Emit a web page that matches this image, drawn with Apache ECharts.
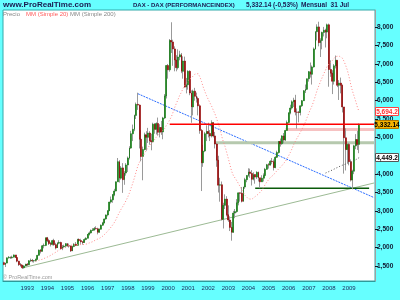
<!DOCTYPE html>
<html><head><meta charset="utf-8">
<script src="https://cdn.jsdelivr.net/npm/echarts@6/dist/echarts.min.js"></script>
<style>html,body{margin:0;padding:0;background:#66ffff;}#c{width:400px;height:300px;}</style>
</head><body><div id="c"></div>
<script>
// ---- data (monthly, Nov 1991 .. Jul 2009) ----
const firstMonth = [1991, 11];
const lastMonth = [2010, 4];
const yearLabels = ['1993','1994','1995','1996','1997','1998','1999','2000','2001','2002','2003','2004','2005','2006','2007','2008','2009'];
const yTicks = [1500, 2000, 2500, 3000, 3500, 4000, 4500, 5000, 5500, 6000, 6500, 7000, 7500, 8000];

const opens = [
1590,1540,
1578,1720,1735,1720,1740,1800,1730,1630,1535,1520,1450,1500,
1545,1530,1640,1650,1640,1645,1680,1790,1930,1900,2050,2060,
2267,2190,2110,2090,2190,2080,1990,2120,2140,1970,2020,2040,
2107,2050,2040,1910,2030,2090,2060,2220,2190,2160,2140,2220,
2254,2360,2400,2470,2480,2520,2510,2420,2500,2610,2670,2780,
2889,3000,3240,3300,3440,3540,3790,4340,3890,4170,3850,4030,
4250,4440,4710,5100,5220,5600,5900,5880,4950,4480,4670,5070,
5002,5120,4910,4880,5360,5220,5380,5140,5270,5150,5530,6130,
6958,6840,7640,7600,7410,7110,6900,7190,7250,6800,7080,6370,
6434,6800,6210,5830,6260,6120,6060,5860,5190,4310,4630,5100,
5160,5110,5040,5400,5040,4820,4380,3700,3710,2770,3150,3320,
2893,2750,2550,2420,2940,2980,3220,3490,3480,3260,3650,3850,
3965,4060,4020,3860,3990,3920,4050,3900,3790,3890,3960,4130,
4256,4250,4350,4340,4180,4460,4590,4890,4830,5040,4930,5190,
5408,5670,5800,5970,6010,5690,5685,5680,5860,6000,6270,6310,
6597,6790,6720,6920,7410,7880,8010,7580,7640,7860,7920,7870,
8067,6850,6750,6530,6950,7100,6420,6480,6420,5830,4990,4670,
4810,4340,3840,4080,4770,4940,4810];

const highs = [
1620,1590,
1730,1770,1760,1780,1811,1800,1740,1640,1580,1530,1520,1560,
1580,1660,1700,1690,1660,1700,1800,1950,1960,2070,2110,2270,
2290,2240,2150,2210,2240,2130,2150,2200,2160,2070,2080,2120,
2120,2110,2060,2050,2120,2150,2240,2250,2240,2170,2250,2280,
2370,2440,2490,2530,2560,2580,2540,2520,2630,2700,2790,2900,
3020,3250,3390,3460,3600,3800,4440,4380,4220,4300,4080,4300,
4480,4760,5180,5350,5620,5950,6217,5900,5200,4750,5130,5170,
5260,5170,5100,5400,5390,5410,5540,5360,5450,5560,6180,6970,
7000,7680,8136,7660,7480,7240,7400,7360,7300,7210,7200,6620,
6830,6830,6280,6300,6350,6220,6110,5900,5230,4800,5150,5330,
5400,5200,5467,5420,5150,4850,4500,3900,3800,3220,3450,3400,
3150,2850,2700,3000,3050,3320,3500,3500,3650,3660,3900,3970,
4160,4150,4110,4050,3990,4080,4070,3900,3970,4020,4170,4280,
4300,4380,4440,4400,4490,4640,4900,4970,5060,5120,5200,5460,
5680,5890,6010,6080,6160,5790,5720,5870,6020,6290,6440,6600,
6810,7040,6960,7450,7890,8080,8151,7700,7880,8010,7960,8100,
8100,7100,6830,7000,7230,7100,6560,6630,6440,5830,5250,4830,
4850,4400,4120,4800,5090,5180,5380];

const lows = [
1520,1470,
1570,1700,1690,1700,1730,1720,1600,1500,1480,1420,1430,1490,
1500,1520,1610,1600,1590,1620,1670,1780,1840,1890,1980,2040,
2150,2070,2030,2060,2050,1950,1990,2090,1950,1930,1990,2000,
2020,2000,1880,1900,2010,2040,2060,2150,2100,2080,2130,2200,
2250,2330,2380,2450,2460,2490,2360,2400,2490,2590,2660,2760,
2850,3000,3200,3220,3400,3530,3790,3770,3850,3490,3710,3960,
4060,4400,4690,4900,5170,5500,5750,4700,4350,3833,4650,4640,
4850,4800,4650,4870,5100,5080,5050,5000,5070,4950,5500,6060,
6600,6790,7300,6950,6800,6800,6850,7100,6750,6600,6360,6200,
6300,6150,5400,5600,6000,5950,5600,5100,3540,4200,4600,4900,
5000,4900,5000,5000,4700,4200,3500,3250,2740,2520,3050,2850,
2700,2450,2188,2400,2800,2950,3150,3250,3230,3250,3600,3780,
3930,3900,3690,3830,3740,3870,3800,3618,3790,3800,3950,4120,
4150,4230,4270,4100,4160,4440,4560,4750,4800,4840,4900,5180,
5380,5630,5760,5830,5600,5240,5410,5600,5830,5990,6210,6290,
6520,6630,6440,6900,7390,7640,7480,7190,7400,7750,7450,7700,
6380,6650,6180,6440,6880,6370,6020,6200,5680,4014,4100,4300,
4240,3800,3588,4000,4680,4660,4570];

const closes = [
1540,1578,
1720,1735,1720,1740,1800,1730,1630,1535,1520,1450,1500,1545,
1530,1640,1650,1640,1645,1680,1790,1930,1900,2050,2060,2267,
2190,2110,2090,2190,2080,1990,2120,2140,1970,2020,2040,2107,
2050,2040,1910,2030,2090,2060,2220,2190,2160,2140,2220,2254,
2360,2400,2470,2480,2520,2510,2420,2500,2610,2670,2780,2889,
3000,3240,3300,3440,3540,3790,4340,3890,4170,3850,4030,4250,
4440,4710,5100,5220,5600,5900,5880,4950,4480,4670,5070,5002,
5120,4910,4880,5360,5220,5380,5140,5270,5150,5530,6130,6958,
6840,7640,7600,7410,7110,6900,7190,7250,6800,7080,6370,6434,
6800,6210,5830,6260,6120,6060,5860,5190,4310,4630,5100,5160,
5110,5040,5400,5040,4820,4380,3700,3710,2770,3150,3320,2893,
2750,2550,2420,2940,2980,3220,3490,3480,3260,3650,3850,3965,
4060,4020,3860,3990,3920,4050,3900,3790,3890,3960,4130,4256,
4250,4350,4340,4180,4460,4590,4890,4830,5040,4930,5190,5408,
5670,5800,5970,6010,5690,5685,5680,5860,6000,6270,6310,6597,
6790,6720,6920,7410,7880,8010,7580,7640,7860,7920,7870,8067,
6850,6750,6530,6950,7100,6420,6480,6420,5830,4990,4670,4810,
4340,3840,4080,4770,4940,4810,5332];

// MM (Simple 200): Nov 2007 .. Jul 2009
const ma200Start = '2007-11';
const ma200 = [4030,4050,4070,4090,4112,4135,4158,4180,4202,4224,4242,4258,4275,4292,4308,4325,4346,4368,4392,4418,4449];

// drawn lines [month, value]
const blueTrend = [['1998-07', 6190], ['2010-04', 3360]];
const supportTrend = [['1992-10', 1445], ['2010-04', 3760]];
const redLevel = [['2000-02', 5358], ['2010-04', 5358]];
const pinkLevel = [['2005-11', 5215], ['2010-04', 5215]];
const sageLevel = [['2002-05', 4857], ['2010-04', 4857]];
const greenLevel = [['2004-05', 3615], ['2010-01', 3615]];

const boxTexts = { ma20: '5,694.2', price: '5,332.14', ma200: '4,449.2' };

// ---- build ----
const months = [];
for (let y = firstMonth[0], m = firstMonth[1]; y < lastMonth[0] || (y === lastMonth[0] && m <= lastMonth[1]); ) {
  months.push(y + '-' + String(m).padStart(2, '0'));
  m++; if (m > 12) { m = 1; y++; }
}
const wickData = opens.map((o, i) => [o, closes[i], lows[i], highs[i]]);
const bodyData = opens.map((o, i) => [o, closes[i], Math.min(o, closes[i]), Math.max(o, closes[i])]);
const ma20 = closes.map((c, i) => {
  if (i < 19) return null;
  let s = 0; for (let k = i - 19; k <= i; k++) s += closes[k];
  return +(s / 20).toFixed(1);
});
const ma200Data = months.map(() => null);
const s200 = months.indexOf(ma200Start);
ma200.forEach((v, k) => { ma200Data[s200 + k] = v; });

const FONT = 'Liberation Sans';
const seg = (data, color, width, type, z) => ({
  type: 'line', data, symbol: 'none', silent: true, z: z || 5,
  lineStyle: { color, width, type: type || 'solid' }, clip: true
});

const chart = echarts.init(document.getElementById('c'), null, { renderer: 'canvas' });
const isYear = (i, v) => String(v).endsWith('-01') && yearLabels.includes(String(v).slice(0, 4));
chart.setOption({
  animation: false,
  backgroundColor: '#66ffff',
  grid: { left: 3, right: 25, top: 10, bottom: 19, show: true, backgroundColor: '#ffffff', borderColor: '#33aaaa', borderWidth: 1 },
  xAxis: {
    type: 'category', data: months, boundaryGap: true,
    axisLine: { lineStyle: { color: '#2f9a9a' } },
    axisTick: { interval: isYear, length: 2, lineStyle: { color: '#334' } },
    axisLabel: { interval: isYear, formatter: v => v.slice(0, 4), fontSize: 6, fontFamily: FONT, color: '#203060', margin: 4 },
    splitLine: { show: false }
  },
  yAxis: {
    type: 'value', position: 'right', min: 1090, max: 8470, scale: true,
    splitLine: { show: false },
    axisLine: { show: true, lineStyle: { color: '#a0a0a0' } },
    axisTick: { show: true, customValues: yTicks, length: 3, lineStyle: { color: '#112' } },
    axisLabel: { customValues: yTicks, formatter: v => v.toLocaleString('en-US'), fontSize: 6.5, fontWeight: 'bold', fontFamily: FONT, color: '#101830', margin: 2 }
  },
  series: [
    seg(supportTrend, '#9cba94', 1, 'solid', 3),
    seg(blueTrend, '#2a6cff', 1, [2, 1], 3),
    seg(sageLevel, '#b6c9ae', 3, 'solid', 3),
    seg(pinkLevel, '#f6c2c2', 3, 'solid', 3),
    seg(greenLevel, '#0a5a0a', 1.5, 'solid', 3),
    { type: 'candlestick', data: wickData, barWidth: 1, z: 4, silent: true,
      itemStyle: { color: '#9a9a9a', color0: '#9a9a9a', borderColor: '#9a9a9a', borderColor0: '#9a9a9a', borderColorDoji: '#9a9a9a', borderWidth: 1 } },
    { type: 'candlestick', data: bodyData, barWidth: 1.4, z: 5, silent: true,
      itemStyle: { color: '#10a010', color0: '#a00000', borderColor: '#107010', borderColor0: '#900000', borderColorDoji: '#107010', borderWidth: 0.6 } },
    { type: 'line', data: ma20, symbol: 'none', silent: true, z: 6, connectNulls: false,
      lineStyle: { color: '#ff8a8a', width: 1, type: [1, 2] } },
    { type: 'line', data: ma200Data, symbol: 'none', silent: true, z: 6,
      lineStyle: { color: '#555555', width: 1, type: [1, 2] } },
    seg(redLevel, '#ff0000', 1.5, 'solid', 7)
  ]
});

const yOf = v => chart.convertToPixel({ yAxisIndex: 0 }, v);
const lastMa20 = ma20[ma20.length - 1];
const lastClose = closes[closes.length - 1];
const lastMa200 = ma200[ma200.length - 1];
const box = (val, text, fill, stroke, tcolor) => {
  const y = Math.round(yOf(val));
  return [
    { type: 'rect', z: 100, shape: { x: 375.5, y: y - 4.5, width: 23, height: 8 }, style: { fill, stroke, lineWidth: 1 } },
    { type: 'text', z: 101, style: { text, x: 387, y: y, fill: tcolor, fontSize: 6.5, fontWeight: 'bold', fontFamily: FONT, align: 'center', verticalAlign: 'middle' } }
  ];
};
const txt = (text, x, y, fill, size, weight) => ({ type: 'text', z: 100, style: { text, x, y, fill, fontSize: size, fontWeight: weight || 'normal', fontFamily: FONT, verticalAlign: 'middle' } });
chart.setOption({
  graphic: [
    txt('www.ProRealTime.com', 3, 5, '#1a1a50', 8, 'bold'),
    txt('DAX - DAX (PERFORMANCEINDEX)', 133, 5, '#1a1a50', 6, 'bold'),
    txt('5,332.14 (-0,53%)', 246, 5, '#1a1a50', 6.5, 'bold'),
    txt('Mensual  31 Jul', 301, 5, '#1a1a50', 6.5, 'bold'),
    txt('Precio', 3, 14, '#888888', 6),
    txt('MM (Simple 20)', 26, 14, '#ff5a5a', 6),
    txt('MM (Simple 200)', 70, 14, '#888888', 6),
    txt('© ProRealTime.com', 3, 277, '#999999', 5.5),
    ...box(lastMa20, boxTexts.ma20, '#ffffff', '#ff4040', '#ff3030'),
    ...box(lastClose, boxTexts.price, '#f5b400', '#b07800', '#000000'),
    ...box(lastMa200, boxTexts.ma200, '#ffffff', '#555555', '#000000')
  ]
});
</script></body></html>
